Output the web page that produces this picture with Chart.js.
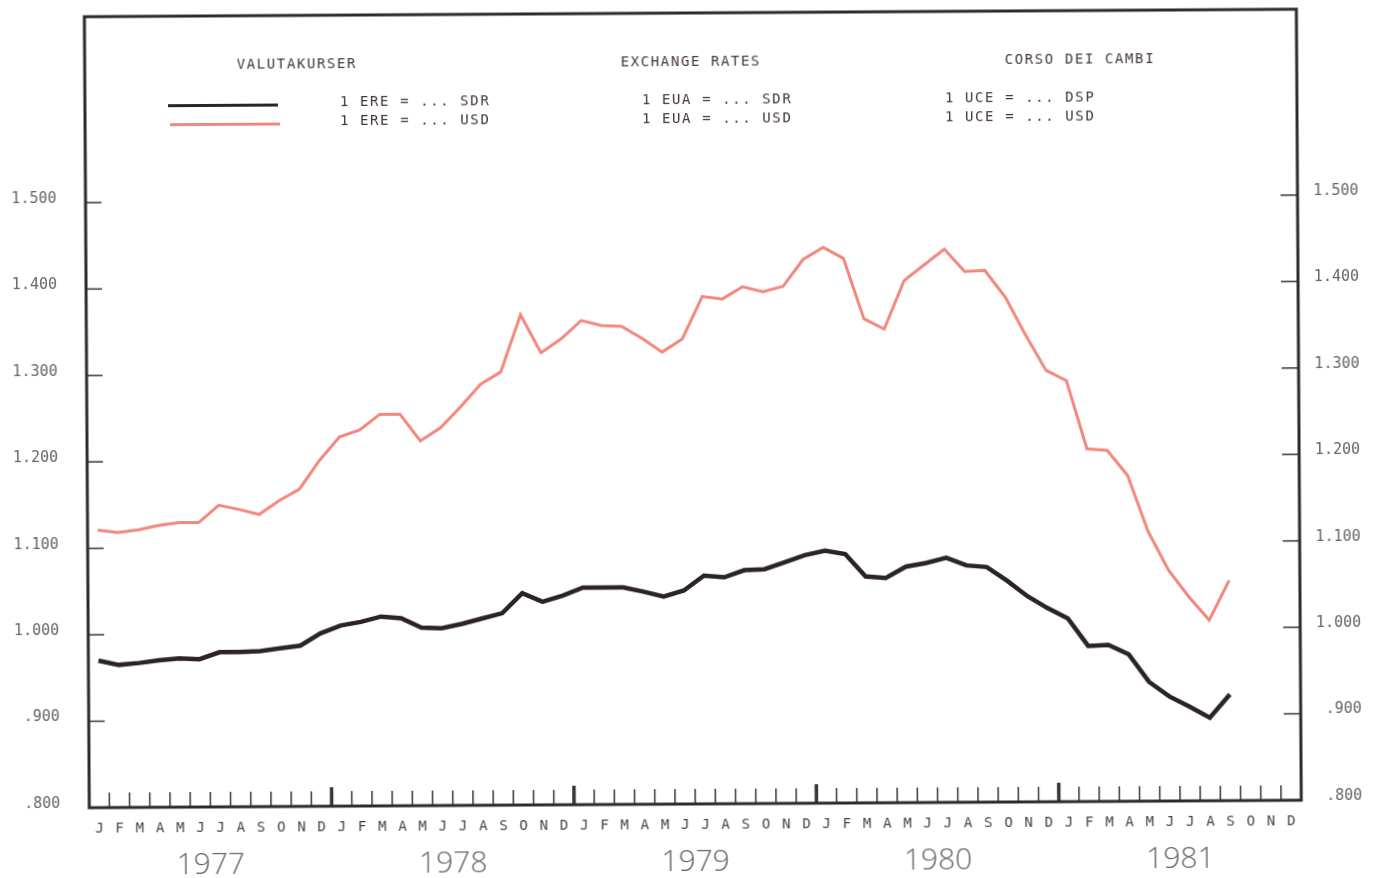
<!DOCTYPE html>
<html>
<head>
<meta charset="utf-8">
<script src="https://cdn.jsdelivr.net/npm/chart.js@4.4.1/dist/chart.umd.min.js"></script>
<style>
    body { margin: 0; background: #fff; }
    .quadro {
        position: relative;
        width: 1374px;
        height: 878px;
        transform: rotate(-0.355deg);
    }
    .legenda {
        position: absolute;
        font-family: "DejaVu Sans Mono", monospace;
        font-size: 14px;
        letter-spacing: 1.6px;
        line-height: 18px;
        color: #45383d;
        white-space: pre;
    }
    .amostra {
        position: absolute;
        height: 3px;
        width: 110px;
    }
</style>
</head>
<body>
<div class="quadro">
    <canvas id="grafico_cambio"></canvas>

    <div class="legenda" style="left:239px; top:52px">VALUTAKURSER</div>
    <div class="legenda" style="left:623px; top:52px">EXCHANGE RATES</div>
    <div class="legenda" style="left:1007px; top:52px">CORSO DEI CAMBI</div>

    <div class="amostra" style="left:170px; top:101px; background:#2b2326"></div>
    <div class="amostra" style="left:172px; top:120px; background:#f2877c"></div>

    <div class="legenda" style="left:342px; top:90px">1 ERE = ... SDR</div>
    <div class="legenda" style="left:342px; top:109px">1 ERE = ... USD</div>
    <div class="legenda" style="left:644px; top:90px">1 EUA = ... SDR</div>
    <div class="legenda" style="left:644px; top:109px">1 EUA = ... USD</div>
    <div class="legenda" style="left:947px; top:90px">1 UCE = ... DSP</div>
    <div class="legenda" style="left:947px; top:109px">1 UCE = ... USD</div>
</div>

<script>
const anos = ['1977', '1978', '1979', '1980', '1981']
const meses = ['J', 'F', 'M', 'A', 'M', 'J', 'J', 'A', 'S', 'O', 'N', 'D']

// valor mensal da unidade de conta europeia, jan/1977 a set/1981
const valoresSDR = [
    0.970, 0.965, 0.967, 0.970, 0.972, 0.971, 0.979, 0.979, 0.980, 0.983, 0.986, 1.000,
    1.009, 1.013, 1.019, 1.017, 1.006, 1.005, 1.010, 1.016, 1.022, 1.045, 1.035, 1.042,
    1.051, 1.051, 1.051, 1.046, 1.040, 1.047, 1.064, 1.062, 1.070, 1.071, 1.079, 1.087,
    1.092, 1.088, 1.062, 1.060, 1.073, 1.077, 1.083, 1.074, 1.072, 1.056, 1.038, 1.024,
    1.012, 0.980, 0.981, 0.970, 0.938, 0.921, 0.909, 0.896, 0.923
]
const valoresUSD = [
    1.121, 1.118, 1.121, 1.126, 1.129, 1.129, 1.149, 1.144, 1.138, 1.154, 1.167, 1.200,
    1.227, 1.235, 1.253, 1.253, 1.222, 1.237, 1.261, 1.287, 1.301, 1.367, 1.323, 1.339,
    1.360, 1.354, 1.353, 1.339, 1.323, 1.338, 1.387, 1.384, 1.398, 1.392, 1.398, 1.429,
    1.443, 1.430, 1.360, 1.348, 1.404, 1.422, 1.440, 1.414, 1.415, 1.384, 1.340, 1.299,
    1.287, 1.208, 1.206, 1.177, 1.112, 1.067, 1.036, 1.009, 1.055
]

const rotulosMeses = anos.flatMap(() => meses)
const valorMin = 0.8
const valorMax = 1.715
const valorUltimoRotulo = 1.5

function formatarValor(v) {
    if (v > valorUltimoRotulo + 0.0001) return ''
    const txt = v.toFixed(3)
    return txt.startsWith('0') ? txt.slice(1) : txt
}

function semFolga(s) {
    s.paddingTop = 0
    s.paddingBottom = 0
    s.paddingLeft = 0
    s.paddingRight = 0
}

// moldura e marcas de escala voltadas para dentro, como no original
const moldura = {
    id: 'moldura',
    afterDraw(chart) {
        const { ctx, chartArea: { left, right, top, bottom }, scales } = chart
        ctx.save()
        ctx.strokeStyle = '#3a3436'
        ctx.lineWidth = 1.5

        scales.y.ticks.forEach(t => {
            if (t.value <= valorMin + 0.0001 || t.value > valorUltimoRotulo + 0.0001) return
            const y = scales.y.getPixelForValue(t.value)
            ctx.beginPath(); ctx.moveTo(left, y); ctx.lineTo(left + 16, y); ctx.stroke()
        })
        scales.y2.ticks.forEach(t => {
            if (t.value <= valorMin + 0.0001 || t.value > valorUltimoRotulo + 0.0001) return
            const y = scales.y2.getPixelForValue(t.value)
            ctx.beginPath(); ctx.moveTo(right - 17, y); ctx.lineTo(right, y); ctx.stroke()
        })

        for (let i = 1; i < rotulosMeses.length; i++) {
            const x = (scales.x.getPixelForValue(i - 1) + scales.x.getPixelForValue(i)) / 2
            const viradaAno = i % 12 == 0
            ctx.lineWidth = viradaAno ? 3.5 : 1.5
            ctx.beginPath()
            ctx.moveTo(x, bottom)
            ctx.lineTo(x, bottom - (viradaAno ? 19 : 15))
            ctx.stroke()
        }

        ctx.strokeStyle = '#2e2a2b'
        ctx.lineWidth = 3
        ctx.strokeRect(left, top, right - left, bottom - top)
        ctx.restore()
    }
}

const fonteEixo = { family: 'DejaVu Sans Mono', size: 15 }

let graficoCambio = new Chart(
    document.getElementById('grafico_cambio'),
    {
        type: 'line',
        plugins: [moldura],
        data: {
            labels: rotulosMeses,
            datasets: [
                {
                    label: 'SDR',
                    data: valoresSDR,
                    borderColor: '#2b2326',
                    borderWidth: 4.5,
                    pointRadius: 0,
                    tension: 0,
                    xAxisID: 'x',
                    yAxisID: 'y'
                },
                {
                    label: 'USD',
                    data: valoresUSD,
                    borderColor: '#f2877c',
                    borderWidth: 3,
                    pointRadius: 0,
                    tension: 0,
                    xAxisID: 'x',
                    yAxisID: 'y'
                }
            ]
        },
        options: {
            responsive: true,
            maintainAspectRatio: false,
            animation: false,
            layout: { padding: { top: 13, right: 14, bottom: 0, left: 0 } },
            plugins: {
                legend: { display: false },
                tooltip: { enabled: false }
            },
            scales: {
                x: {
                    type: 'category',
                    position: 'bottom',
                    offset: true,
                    grid: { display: false, drawTicks: false },
                    border: { display: false },
                    ticks: {
                        autoSkip: false,
                        maxRotation: 0,
                        padding: 13,
                        color: '#444',
                        font: { family: 'DejaVu Sans Mono', size: 14 }
                    },
                    afterFit: s => { s.height = 30; semFolga(s) }
                },
                anos: {
                    type: 'category',
                    position: 'bottom',
                    labels: anos,
                    offset: true,
                    grid: { display: false, drawTicks: false },
                    border: { display: false },
                    ticks: {
                        autoSkip: false,
                        maxRotation: 0,
                        padding: 10,
                        color: '#666',
                        font: { family: 'Open Sans', size: 30, weight: 300 }
                    },
                    afterFit: s => { s.height = 44; semFolga(s) }
                },
                y: {
                    position: 'left',
                    min: valorMin,
                    max: valorMax,
                    grid: { display: false, drawTicks: false },
                    border: { display: false },
                    ticks: {
                        stepSize: 0.1,
                        padding: 29,
                        labelOffset: -4,
                        color: '#666',
                        font: fonteEixo,
                        callback: v => formatarValor(v)
                    },
                    afterFit: s => { s.width = 87; semFolga(s) }
                },
                y2: {
                    position: 'right',
                    min: valorMin,
                    max: valorMax,
                    grid: { display: false, drawTicks: false },
                    border: { display: false },
                    ticks: {
                        stepSize: 0.1,
                        padding: 16,
                        crossAlign: 'far',
                        labelOffset: -4,
                        color: '#666',
                        font: fonteEixo,
                        callback: v => formatarValor(v)
                    },
                    afterFit: s => { s.width = 61; semFolga(s) }
                }
            }
        }
    }
);
</script>
</body>
</html>
